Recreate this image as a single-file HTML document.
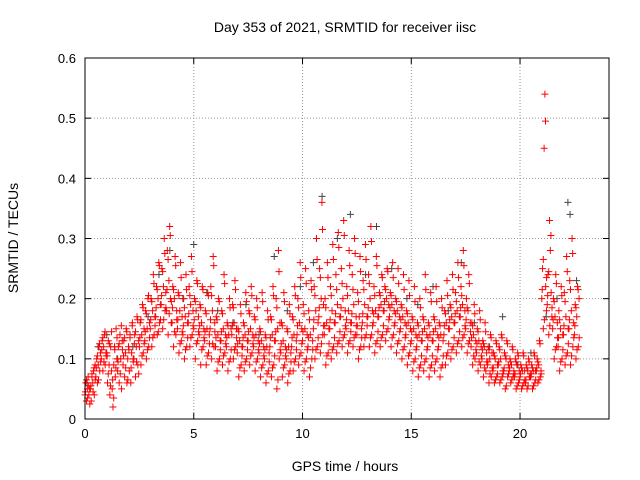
<!DOCTYPE html>
<html><head><meta charset="utf-8"><style>
body{margin:0;background:#fff;}
svg{display:block;font-family:"Liberation Sans",sans-serif;}
</style></head><body>
<svg id="chart" width="640" height="480">
<text x="345" y="32" font-size="14" text-anchor="middle">Day 353 of 2021, SRMTID for receiver iisc</text>
<text x="345" y="471" font-size="14" text-anchor="middle">GPS time / hours</text>
<text x="18" y="238" font-size="14" text-anchor="middle" transform="rotate(-90 18 238)">SRMTID / TECUs</text>
<g id="grid"></g><g id="ticks"></g><g id="gray"></g><g id="red"></g>
<rect x="85" y="58" width="524" height="361" fill="none" stroke="#000"/>
</svg>
<script>
const xTicks=[0,5,10,15,20];
const yTicks=[0,0.1,0.2,0.3,0.4,0.5,0.6];
const yTickLabels=["0","0.1","0.2","0.3","0.4","0.5","0.6"];
const binStarts=[0,0.25,0.5,0.75,1,1.25,1.5,1.75,2,2.25,2.5,2.75,3,3.25,3.5,3.75,4,4.25,4.5,4.75,5,5.25,5.5,5.75,6,6.25,6.5,6.75,7,7.25,7.5,7.75,8,8.25,8.5,8.75,9,9.25,9.5,9.75,10,10.25,10.5,10.75,11,11.25,11.5,11.75,12,12.25,12.5,12.75,13,13.25,13.5,13.75,14,14.25,14.5,14.75,15,15.25,15.5,15.75,16,16.25,16.5,16.75,17,17.25,17.5,17.75,18,18.25,18.5,18.75,19,19.25,19.5,19.75,20,20.25,20.5,20.75,21,21.25,21.5,21.75,22,22.25,22.5];
const redValues=[
[.04,.06,.03,.05,.07,.04,.05],[.05,.03,.07,.06,.08,.04,.09],[.07,.10,.06,.09,.12,.08,.11],[.10,.13,.08,.12,.14,.09,.11],
[.11,.06,.13,.09,.04,.12,.08],[.05,.02,.09,.12,.07,.15,.10],[.08,.12,.06,.14,.10,.05,.13],[.09,.13,.07,.11,.15,.06,.10],
[.12,.08,.14,.06,.11,.16,.10],[.10,.14,.07,.12,.17,.09,.13],[.12,.16,.09,.14,.19,.11,.15],[.13,.18,.10,.15,.20,.12,.16],
[.15,.20,.12,.18,.24,.14,.17],[.17,.22,.14,.20,.26,.16,.19],[.19,.25,.15,.22,.30,.18,.21],[.18,.28,.14,.23,.32,.20,.16],
[.16,.22,.12,.20,.27,.14,.18],[.15,.21,.11,.18,.26,.13,.17],[.14,.20,.10,.17,.24,.12,.16],[.16,.22,.12,.19,.27,.14,.18],
[.15,.20,.10,.18,.23,.13,.17],[.14,.19,.09,.16,.22,.12,.15],[.13,.18,.09,.15,.21,.11,.14],[.15,.22,.10,.18,.27,.12,.16],
[.12,.17,.08,.14,.20,.10,.13],[.13,.18,.09,.15,.24,.11,.14],[.12,.16,.08,.14,.20,.10,.15],[.14,.19,.10,.16,.23,.12,.15],
[.11,.15,.07,.13,.19,.09,.12],[.12,.16,.08,.14,.21,.10,.13],[.13,.18,.09,.15,.22,.11,.14],[.12,.17,.08,.14,.20,.10,.13],
[.11,.15,.07,.13,.21,.09,.12],[.10,.14,.06,.12,.18,.08,.11],[.12,.17,.07,.14,.22,.09,.13],[.13,.20,.05,.15,.28,.10,.16],
[.11,.16,.07,.13,.21,.09,.12],[.10,.15,.06,.12,.19,.08,.11],[.12,.17,.08,.14,.22,.10,.13],[.14,.20,.09,.16,.26,.11,.15],
[.13,.19,.08,.15,.25,.10,.14],[.12,.18,.07,.14,.23,.10,.13],[.15,.22,.10,.18,.30,.12,.16],[.17,.25,.11,.20,.36,.14,.19],
[.14,.20,.09,.16,.26,.11,.15],[.15,.22,.10,.18,.29,.12,.16],[.16,.24,.11,.19,.31,.13,.17],[.17,.25,.12,.20,.33,.14,.18],
[.15,.22,.11,.18,.28,.13,.16],[.16,.24,.12,.19,.30,.14,.17],[.14,.21,.10,.17,.27,.12,.15],[.16,.23,.12,.19,.29,.14,.17],
[.17,.24,.12,.20,.32,.14,.18],[.16,.22,.11,.18,.27,.13,.17],[.17,.21,.12,.19,.24,.14,.18],[.18,.22,.13,.20,.25,.15,.19],
[.17,.21,.12,.19,.26,.14,.18],[.16,.20,.11,.18,.25,.13,.17],[.15,.19,.10,.17,.24,.12,.16],[.14,.18,.09,.16,.23,.11,.15],
[.13,.17,.08,.15,.22,.10,.14],[.12,.16,.07,.14,.20,.09,.13],[.13,.17,.08,.15,.24,.10,.14],[.12,.16,.07,.14,.21,.09,.13],
[.13,.17,.08,.15,.22,.10,.14],[.12,.16,.07,.14,.20,.09,.13],[.14,.18,.09,.16,.23,.11,.15],[.15,.19,.10,.17,.24,.12,.16],
[.16,.21,.11,.18,.26,.13,.17],[.17,.22,.12,.19,.28,.14,.18],[.15,.20,.11,.18,.24,.13,.16],[.12,.16,.09,.14,.19,.10,.13],
[.11,.15,.08,.13,.18,.09,.12],[.10,.13,.07,.12,.16,.08,.11],[.09,.12,.06,.10,.14,.07,.11],[.08,.11,.06,.10,.13,.07,.09],
[.09,.12,.06,.10,.14,.07,.08],[.08,.11,.05,.10,.13,.07,.09],[.08,.10,.06,.09,.12,.07,.08],[.07,.10,.05,.09,.11,.06,.08],
[.07,.09,.05,.08,.11,.06,.08],[.06,.09,.05,.08,.10,.07,.07],[.07,.09,.05,.08,.11,.06,.08],[.08,.10,.06,.09,.13,.07,.08],
[.20,.25,.15,.45,.54,.22,.18],[.19,.24,.14,.33,.28,.21,.17],[.15,.20,.10,.17,.24,.12,.16],[.12,.18,.08,.15,.22,.10,.14],
[.14,.21,.09,.17,.27,.11,.15],[.15,.23,.09,.18,.30,.12,.16],[.14,.19,.10,.17,.22,.12,.20]];
const redValues2=[
[.045,.065,.035,.055,.025],[.055,.075,.045,.085,.065],[.085,.105,.065,.125,.095],[.115,.135,.095,.145,.105],
[.105,.075,.125,.055,.145],[.065,.035,.115,.085,.135],[.095,.125,.075,.155,.115],[.105,.135,.085,.145,.065],
[.115,.135,.085,.155,.095],[.125,.145,.095,.165,.075],[.135,.165,.105,.185,.125],[.145,.175,.115,.205,.135],
[.165,.195,.135,.225,.155],[.185,.215,.145,.255,.165],[.205,.245,.165,.275,.185],[.215,.265,.175,.305,.195],
[.185,.215,.145,.255,.165],[.165,.205,.125,.235,.145],[.155,.185,.115,.215,.135],[.175,.205,.135,.245,.155],
[.165,.195,.125,.225,.145],[.155,.185,.115,.215,.135],[.145,.175,.105,.205,.125],[.165,.205,.125,.255,.145],
[.135,.165,.095,.195,.115],[.145,.175,.105,.225,.125],[.135,.155,.095,.185,.115],[.155,.185,.115,.215,.135],
[.125,.145,.085,.175,.105],[.135,.155,.095,.195,.115],[.145,.175,.105,.205,.125],[.135,.165,.095,.185,.115],
[.125,.145,.085,.195,.105],[.115,.135,.075,.165,.095],[.135,.165,.085,.205,.105],[.145,.185,.065,.245,.115],
[.125,.155,.085,.195,.105],[.115,.145,.075,.175,.095],[.135,.165,.095,.205,.115],[.155,.185,.105,.235,.125],
[.145,.175,.095,.225,.115],[.135,.165,.085,.215,.115],[.165,.205,.115,.265,.135],[.185,.235,.125,.315,.155],
[.155,.185,.105,.235,.125],[.165,.205,.115,.265,.135],[.175,.215,.125,.285,.145],[.185,.225,.135,.305,.155],
[.165,.205,.125,.255,.145],[.175,.215,.135,.275,.155],[.155,.195,.115,.245,.135],[.175,.215,.135,.265,.155],
[.185,.225,.135,.295,.155],[.175,.205,.125,.255,.145],[.185,.205,.135,.235,.155],[.195,.215,.145,.245,.165],
[.185,.205,.135,.235,.155],[.175,.195,.125,.225,.145],[.165,.185,.115,.215,.135],[.155,.175,.105,.205,.125],
[.145,.165,.095,.195,.115],[.135,.155,.085,.185,.105],[.145,.165,.095,.215,.115],[.135,.155,.085,.195,.105],
[.145,.165,.095,.195,.115],[.135,.155,.085,.185,.105],[.155,.175,.105,.205,.125],[.165,.185,.115,.215,.135],
[.175,.195,.125,.235,.145],[.185,.205,.135,.255,.155],[.165,.185,.125,.225,.145],[.135,.155,.105,.175,.115],
[.125,.145,.095,.165,.105],[.115,.125,.085,.145,.095],[.095,.115,.075,.135,.085],[.085,.105,.065,.125,.075],
[.095,.115,.065,.135,.075],[.085,.105,.055,.125,.075],[.085,.095,.065,.115,.075],[.075,.095,.055,.105,.065],
[.075,.085,.055,.105,.065],[.065,.085,.055,.095,.075],[.075,.085,.055,.105,.065],[.085,.095,.065,.125,.075],
[.215,.265,.165,.495,.235],[.205,.245,.155,.305,.185],[.165,.195,.115,.225,.135],[.135,.165,.095,.205,.115],
[.155,.195,.105,.245,.125],[.165,.215,.105,.275,.135],[.155,.185,.115,.215,.135]];
const grayTimes=[0.1,0.6,1.0,1.5,2.2,2.9,3.4,3.9,4.5,5.0,5.6,6.1,6.8,7.4,8.0,8.7,9.3,9.9,10.5,10.9,11.6,12.2,12.9,13.4,14.1,14.8,15.3,16.0,16.7,17.3,17.9,18.6,19.2,19.9,20.5,21.2,21.7,22.2,22.3,22.6];
const grayValues=[.06,.12,.14,.10,.12,.17,.24,.28,.20,.29,.21,.18,.16,.19,.14,.27,.18,.22,.26,.37,.30,.34,.24,.32,.25,.20,.19,.22,.18,.26,.16,.12,.17,.09,.11,.17,.20,.36,.34,.23];
const X0=85,X1=609,Y0=419,Y1=58,XMAX=24.09,YMAX=0.6;
const xs=t=>X0+t/XMAX*(X1-X0);
const ys=v=>Y0-v/YMAX*(Y0-Y1);
const NS="http://www.w3.org/2000/svg";
function mk(tag,attrs,parent){const e=document.createElementNS(NS,tag);for(const k in attrs)e.setAttribute(k,attrs[k]);parent.appendChild(e);return e;}
const grid=document.getElementById('grid'),ticks=document.getElementById('ticks');
xTicks.forEach(t=>{
 const x=xs(t);
 if(t>0){const g=mk('line',{x1:x,y1:Y1,x2:x,y2:Y0,stroke:'#999','stroke-dasharray':'1,2'},grid);
 
 }
 mk('line',{x1:x,y1:Y0,x2:x,y2:Y0-6,stroke:'#000'},ticks);
 mk('line',{x1:x,y1:Y1,x2:x,y2:Y1+6,stroke:'#000'},ticks);
 const l=mk('text',{x:x,y:Y0+19,'font-size':13,'text-anchor':'middle'},ticks);l.textContent=t;
 
 
});
yTicks.forEach((v,i)=>{
 const y=ys(v);
 if(v>0&&v<0.6){const g=mk('line',{x1:X0,y1:y,x2:X1,y2:y,stroke:'#999','stroke-dasharray':'1,2'},grid);
 
 }
 mk('line',{x1:X0,y1:y,x2:X0+6,y2:y,stroke:'#000'},ticks);
 mk('line',{x1:X1,y1:y,x2:X1-6,y2:y,stroke:'#000'},ticks);
 const l=mk('text',{x:X0-9,y:y+5,'font-size':13,'text-anchor':'end'},ticks);l.textContent=yTickLabels[i];
 
 
});
function plus(x,y,color,parent,name){
 const p=mk('path',{d:`M${x-3.5},${y}H${x+3.5}M${x},${y-3.5}V${y+3.5}`,stroke:color,'stroke-width':1,fill:'none'},parent);
 
 
}
const gG=document.getElementById('gray');
grayTimes.forEach((t,i)=>plus(xs(t),ys(grayValues[i]),'#444',gG,'gray-point'));
const gR=document.getElementById('red');
binStarts.forEach((t0,b)=>{const vals=redValues[b];vals.forEach((v,k)=>{
 const t=t0+k*0.25/vals.length;
 plus(xs(t),ys(v),'#ff0000',gR,'red-point');
});});
binStarts.forEach((t0,b)=>{const vals=redValues2[b];vals.forEach((v,k)=>{
 const t=t0+0.02+k*0.25/vals.length;
 plus(xs(t),ys(v),'#ff0000',gR,'red-point');
});});
</script>
</body></html>
